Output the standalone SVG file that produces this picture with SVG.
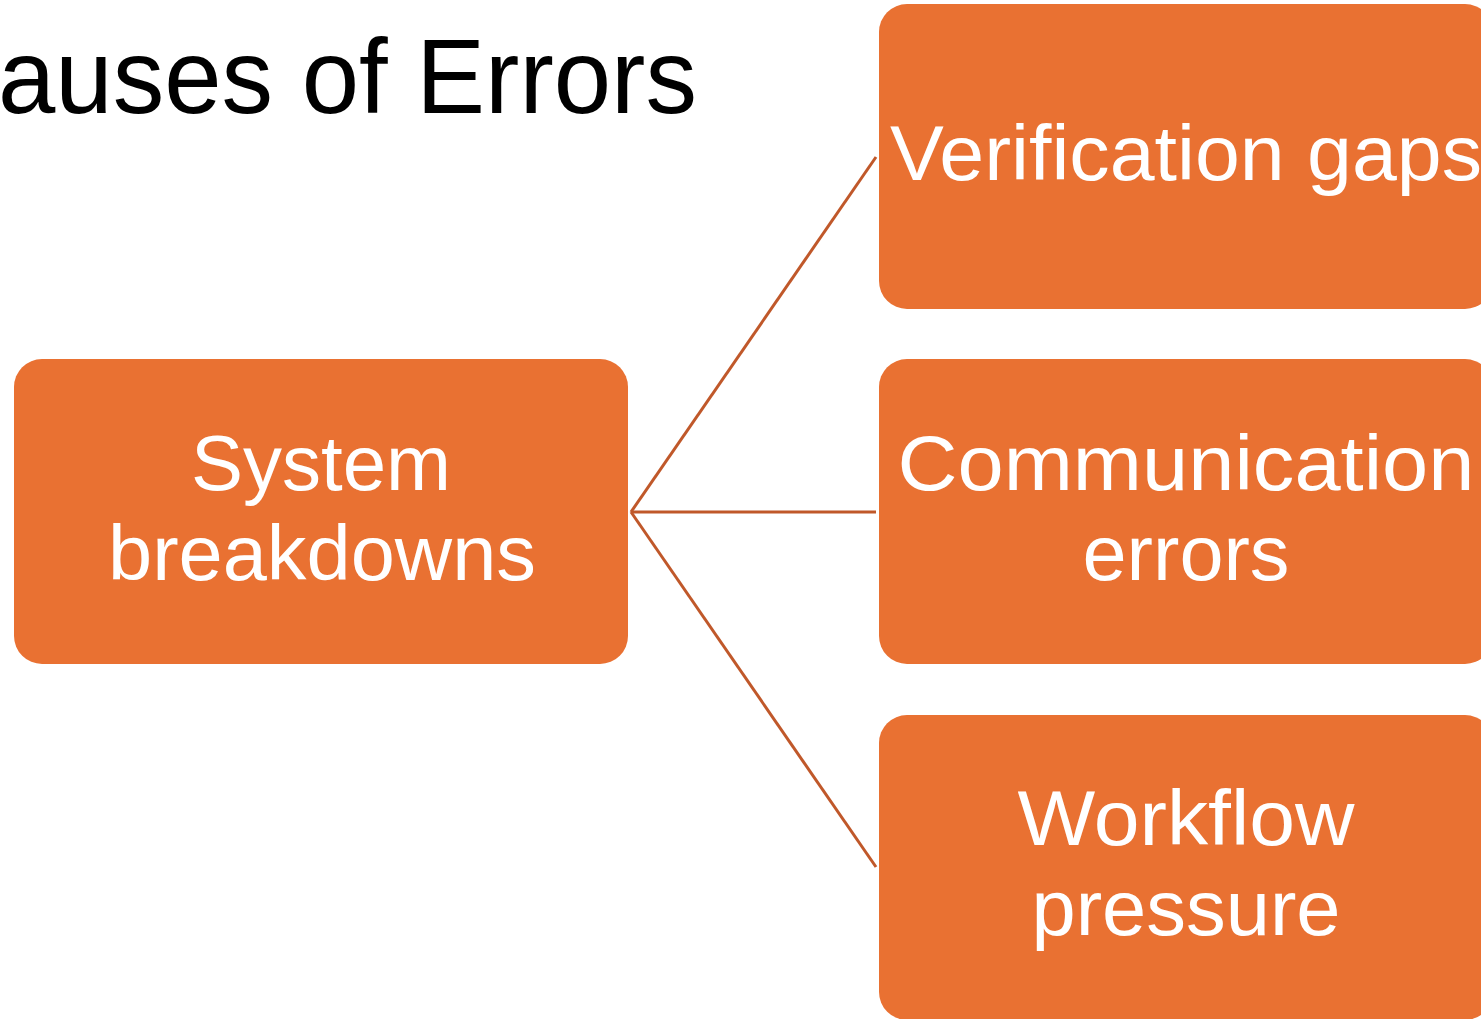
<svg xmlns="http://www.w3.org/2000/svg" width="1481" height="1019" viewBox="0 0 1481 1019">
<style>
.box{fill:#E97132;}
.lbl{fill:#FFFFFF;font-family:"Liberation Sans",Arial,sans-serif;font-size:78px;text-anchor:middle;}
.title{fill:#000000;font-family:"Liberation Sans Narrow","Liberation Sans",Arial,sans-serif;font-size:106px;}
.conn{stroke:#C0582A;stroke-width:3;fill:none;}
</style>
<rect width="1481" height="1019" fill="#FFFFFF"/>
<text class="title" x="-2" y="113" textLength="699" lengthAdjust="spacingAndGlyphs">auses of Errors</text>
<g id="connectors">
<line class="conn" x1="631" y1="512" x2="876" y2="157"/>
<line class="conn" x1="631" y1="512" x2="876" y2="512"/>
<line class="conn" x1="631" y1="512" x2="876" y2="867"/>
</g>
<g id="node-system">
<rect class="box" x="14" y="359" width="614" height="305" rx="28"/>
<text class="lbl" x="321" y="490" textLength="260" lengthAdjust="spacingAndGlyphs">System</text>
<text class="lbl" x="322" y="580" textLength="428" lengthAdjust="spacingAndGlyphs">breakdowns</text>
</g>
<g id="node-verification">
<rect class="box" x="879" y="4" width="614" height="305" rx="28"/>
<text class="lbl" x="1186" y="180" textLength="592" lengthAdjust="spacingAndGlyphs">Verification gaps</text>
</g>
<g id="node-communication">
<rect class="box" x="879" y="359" width="614" height="305" rx="28"/>
<text class="lbl" x="1186" y="490" textLength="577" lengthAdjust="spacingAndGlyphs">Communication</text>
<text class="lbl" x="1186" y="580" textLength="207" lengthAdjust="spacingAndGlyphs">errors</text>
</g>
<g id="node-workflow">
<rect class="box" x="879" y="715" width="614" height="305" rx="28"/>
<text class="lbl" x="1186" y="845" textLength="337" lengthAdjust="spacingAndGlyphs">Workflow</text>
<text class="lbl" x="1186" y="935" textLength="309" lengthAdjust="spacingAndGlyphs">pressure</text>
</g>
</svg>
